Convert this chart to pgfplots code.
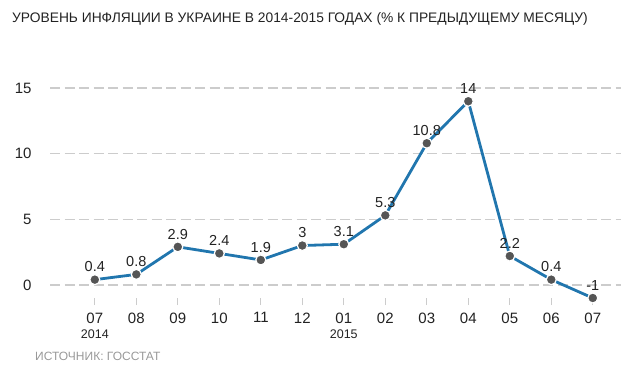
\documentclass[border=0pt]{standalone}
\usepackage{fontspec}
\setmainfont{Liberation Sans}
\usepackage{pgfplots}
\usepackage{pgfplotstable}
\pgfplotsset{compat=1.18}
\definecolor{linec}{RGB}{33,118,174}
\definecolor{markc}{RGB}{85,85,85}
\definecolor{gridc}{RGB}{204,204,204}
\definecolor{txt}{RGB}{34,34,34}
\pgfplotstableread{
x y lab
0 0.4 0.4
1 0.8 0.8
2 2.9 2.9
3 2.4 2.4
4 1.9 1.9
5 3 3
6 3.1 3.1
7 5.3 5.3
8 10.8 10.8
9 14 14
10 2.2 2.2
11 0.4 0.4
12 -1 -1
}\datatable
\begin{document}
\begin{tikzpicture}[x=1pt,y=1pt]
\useasboundingbox (0,0) rectangle (640,368);
\node[anchor=base west, inner sep=0, text=txt, font=\fontsize{13.8}{15}\selectfont] at (12,345) {УРОВЕНЬ ИНФЛЯЦИИ В УКРАИНЕ В 2014-2015 ГОДАХ (\% К ПРЕДЫДУЩЕМУ МЕСЯЦУ)};
\node[anchor=base west, inner sep=0, text=black!40, font=\fontsize{12}{13}\selectfont] at (35,8) {ИСТОЧНИК: ГОССТАТ};
\begin{axis}[
  at={(50pt,70pt)}, anchor=south west,
  scale only axis, width=571pt, height=223pt,
  xmin=-1.08, xmax=12.68, ymin=-1, ymax=16,
  clip=false,
  axis line style={draw=none},
  xtick pos=bottom, ytick pos=left,
  xtick={0,...,12},
  xticklabels={{07\\[0pt]{\fontsize{12.5}{13}\selectfont 2014}},08,09,10,11,12,{01\\[0pt]{\fontsize{12.5}{13}\selectfont 2015}},02,03,04,05,06,07},
  xticklabel style={align=center, anchor=north, yshift=-4pt, text=txt, font=\fontsize{15}{15}\selectfont},
  tick align=outside,
  major tick length=7pt,
  x tick style={draw=gridc, line width=1pt},
  y tick style={draw=none},
  ytick={0,5,10,15},
  yticklabel style={anchor=east, xshift=-8pt, text=txt, font=\fontsize{15}{15}\selectfont},
  ymajorgrids,
  grid style={draw=gridc, line width=1.5pt, dash pattern=on 10pt off 4.5pt},
  /pgf/number format/assume math mode=true,
]
\addplot[
  color=linec, line width=2.8pt,
  mark=*, mark size=5pt,
  mark options={fill=markc, draw=white, line width=1.2pt},
  point meta=explicit symbolic,
  nodes near coords,
  every node near coord/.append style={anchor=south, inner sep=0pt, yshift=7pt, text=txt, font=\fontsize{14.5}{15}\selectfont},
] table[x=x, y=y, meta=lab] {\datatable};
\end{axis}
\end{tikzpicture}
\end{document}
